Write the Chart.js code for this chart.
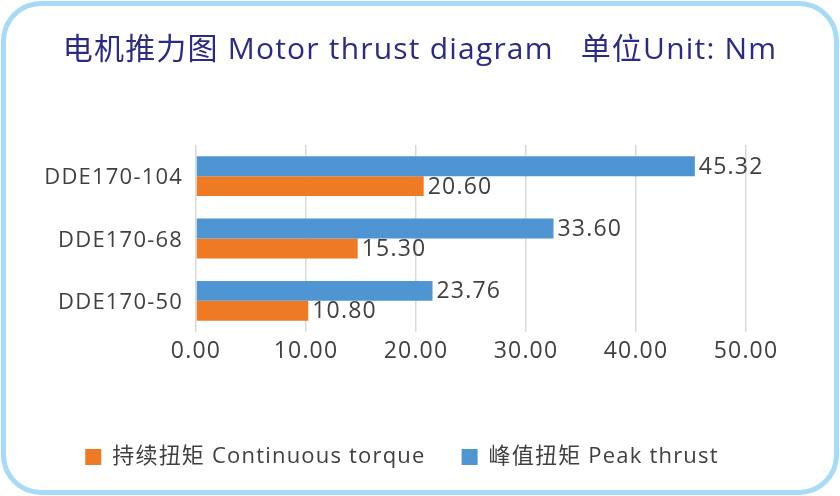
<!DOCTYPE html>
<html>
<head>
<meta charset="utf-8">
<script src="https://cdn.jsdelivr.net/npm/chart.js@4.4.0/dist/chart.umd.min.js"></script>
<style>
  html, body { margin: 0; padding: 0; background: #fff; }
  .frame {
    position: relative;
    width: 840px;
    height: 496px;
  }
  .frame::before {
    content: '';
    position: absolute;
    left: 1px; top: 1px; right: 1px; bottom: 1px;
    border: 5px solid #a6dbf6;
    border-radius: 40px;
  }
  canvas { position: absolute; left: 0; top: 0; }
</style>
</head>
<body>
<div class="frame">
  <canvas id="thrust" width="840" height="496"></canvas>
</div>
<script>
// data (bar lengths as drawn, printed labels as shown)
const models = ['DDE170-104', 'DDE170-68', 'DDE170-50'];
const peakThrust = [45.35, 32.5, 21.5];
const continuousTorque = [20.7, 14.7, 10.2];
const peakLabels = ['45.32', '33.60', '23.76'];
const continuousLabels = ['20.60', '15.30', '10.80'];
const xTicks = [0, 10, 20, 30, 40, 50];

const FONT = "'Open Sans', 'Noto Sans CJK SC', sans-serif";
const TEXT = '#404040';

// the reference text is slightly letter-spaced
const spacing = {
  id: 'spacing',
  beforeUpdate(chart) { chart.ctx.letterSpacing = '1.2px'; },
  beforeDraw(chart) { chart.ctx.letterSpacing = '1.2px'; }
};

// draws the printed value next to the end of each bar
const valueLabels = {
  id: 'valueLabels',
  afterDatasetsDraw(chart) {
    const ctx = chart.ctx;
    ctx.save();
    ctx.font = '23px ' + FONT;
    ctx.fillStyle = TEXT;
    ctx.textAlign = 'left';
    ctx.textBaseline = 'middle';
    chart.data.datasets.forEach((ds, i) => {
      chart.getDatasetMeta(i).data.forEach((bar, j) => {
        ctx.fillText(ds.valueText[j], bar.x + 4, bar.y + 1);
      });
    });
    ctx.restore();
  }
};

new Chart(document.getElementById('thrust'), {
  type: 'bar',
  data: {
    labels: models,
    datasets: [
      {
        label: '峰值扭矩 Peak thrust',
        data: peakThrust,
        valueText: peakLabels,
        backgroundColor: '#4f94d3',
        barPercentage: 1,
        categoryPercentage: 0.64
      },
      {
        label: '持续扭矩 Continuous torque',
        data: continuousTorque,
        valueText: continuousLabels,
        backgroundColor: '#ee7b23',
        barPercentage: 1,
        categoryPercentage: 0.64
      }
    ]
  },
  options: {
    indexAxis: 'y',
    responsive: false,
    animation: false,
    devicePixelRatio: 1,
    layout: { padding: { left: 0, right: 36, top: 0, bottom: 18 } },
    plugins: {
      title: {
        display: true,
        // leading spaces push the centred title back to the middle of the frame
        text: '    电机推力图 Motor thrust diagram   单位Unit: Nm',
        color: '#2b2b86',
        font: { family: FONT, size: 30, weight: 'normal' },
        padding: { top: 32, bottom: 77 }
      },
      legend: {
        position: 'bottom',
        reverse: true,
        labels: {
          color: TEXT,
          font: { family: FONT, size: 22 },
          boxWidth: 16,
          boxHeight: 16,
          padding: 36
        }
      },
      tooltip: { enabled: false }
    },
    scales: {
      x: {
        min: 0,
        max: 50,
        afterBuildTicks: scale => { scale.ticks = xTicks.map(v => ({ value: v })); },
        afterFit: scale => { scale.height = 78; scale.paddingRight = 94; },
        grid: { color: '#d9d9d9', lineWidth: 1.5, drawTicks: false },
        border: { display: false },
        ticks: {
          color: TEXT,
          font: { family: FONT, size: 23 },
          padding: 6,
          callback: v => v.toFixed(2)
        }
      },
      y: {
        afterFit: scale => { scale.width = 196; },
        grid: { display: false, drawTicks: false },
        border: { display: false },
        ticks: {
          color: TEXT,
          font: { family: FONT, size: 22 },
          padding: 13,
          labelOffset: 2
        }
      }
    }
  },
  plugins: [spacing, valueLabels]
});
</script>
</body>
</html>
